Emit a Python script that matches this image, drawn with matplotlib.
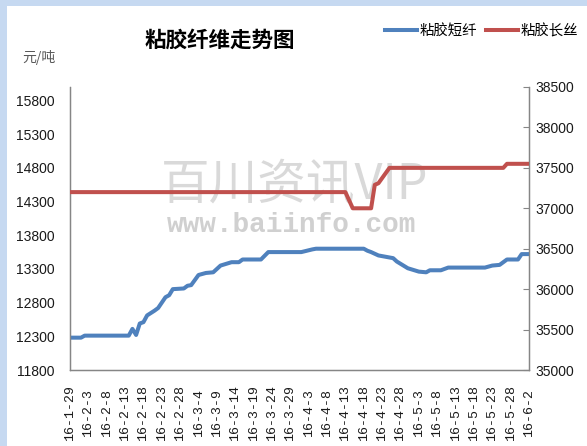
import matplotlib
matplotlib.use('Agg')
import matplotlib.pyplot as plt
from matplotlib.patches import Rectangle
from matplotlib.font_manager import FontProperties
import pandas as pd

# ---------------- data ----------------
staple_dates = ['2016-01-29', '2016-02-01', '2016-02-02', '2016-02-14', '2016-02-15',
                '2016-02-16', '2016-02-17', '2016-02-18', '2016-02-19', '2016-02-21',
                '2016-02-22', '2016-02-24', '2016-02-25', '2016-02-26', '2016-02-29',
                '2016-03-01', '2016-03-02', '2016-03-04', '2016-03-06', '2016-03-08',
                '2016-03-10', '2016-03-13', '2016-03-15', '2016-03-16', '2016-03-21',
                '2016-03-23', '2016-04-01', '2016-04-04', '2016-04-05', '2016-04-18',
                '2016-04-19', '2016-04-20', '2016-04-22', '2016-04-26', '2016-04-27',
                '2016-04-30', '2016-05-03', '2016-05-05', '2016-05-06', '2016-05-09',
                '2016-05-11', '2016-05-21', '2016-05-23', '2016-05-25', '2016-05-27',
                '2016-05-30', '2016-05-31', '2016-06-02']
staple_values = [12280, 12280, 12310, 12310, 12410,
                 12320, 12490, 12510, 12610, 12680,
                 12720, 12880, 12910, 13000, 13010,
                 13050, 13060, 13210, 13240, 13250,
                 13350, 13400, 13400, 13440, 13440,
                 13550, 13550, 13590, 13600, 13600,
                 13570, 13550, 13500, 13460, 13410,
                 13310, 13260, 13250, 13280, 13280,
                 13320, 13320, 13350, 13360, 13440,
                 13440, 13520, 13520]

filament_dates = ['2016-01-29', '2016-04-13', '2016-04-15', '2016-04-20', '2016-04-21',
                  '2016-04-22', '2016-04-25', '2016-05-26', '2016-05-27', '2016-06-02']
filament_values = [37200, 37200, 37000, 37000, 37290,
                   37310, 37500, 37500, 37550, 37550]

tick_labels = ['16-1-29', '16-2-3', '16-2-8', '16-2-13', '16-2-18', '16-2-23', '16-2-28',
               '16-3-4', '16-3-9', '16-3-14', '16-3-19', '16-3-24', '16-3-29', '16-4-3',
               '16-4-8', '16-4-13', '16-4-18', '16-4-23', '16-4-28', '16-5-3', '16-5-8',
               '16-5-13', '16-5-18', '16-5-23', '16-5-28', '16-6-2']

left_ticks = [11800, 12300, 12800, 13300, 13800, 14300, 14800, 15300, 15800]
right_ticks = [35000, 35500, 36000, 36500, 37000, 37500, 38000, 38500]

series_names = ['粘胶短纤', '粘胶长丝']
title_text = '粘胶纤维走势图'
unit_text = '元/吨'

# ---------------- style ----------------
CJK = 'Noto Sans CJK SC'
plt.rcParams['font.family'] = ['Liberation Sans', CJK, 'DejaVu Sans']
BLUE = '#4F81BD'
RED = '#C0504D'
AXIS = '#868686'
W, H = 587, 446

fig = plt.figure(figsize=(W / 100, H / 100), dpi=100)
fig.patch.set_facecolor('#C6D9F1')
fig.add_artist(Rectangle((7 / W, 0), 1, 1 - 6 / H, transform=fig.transFigure,
                         facecolor='white', edgecolor='none', zorder=0))

x0, x1, ytop, ybot = 70, 529, 87, 370
ax = fig.add_axes([x0 / W, 1 - ybot / H, (x1 - x0) / W, (ybot - ytop) / H])

sd = pd.to_datetime(staple_dates)
fd = pd.to_datetime(filament_dates)
tick_pos = pd.to_datetime(['20' + t for t in tick_labels], format='%Y-%m-%d')

# watermark
ax.text(0.489, 0.652, '百川资讯VIP', transform=ax.transAxes, fontsize=35, color='#D9D9D9',
        family=[CJK], ha='center', va='center', zorder=0.5)
ax.text(0.482, 0.512, 'www.baiinfo.com', transform=ax.transAxes, fontsize=20,
        color='#D0D0D0', family=['Liberation Mono'], fontweight='bold',
        ha='center', va='center', zorder=0.5)

l1, = ax.plot(sd, staple_values, color=BLUE, lw=2.9, solid_joinstyle='round', zorder=3)
ax2 = ax.twinx()
l2, = ax2.plot(fd, filament_values, color=RED, lw=2.9, solid_joinstyle='round', zorder=3)

ax.set_xlim(sd[0], sd[-1])
ax.set_ylim(11800, 16000)
ax.set_yticks(left_ticks)
ax.set_yticklabels([str(v) for v in left_ticks])
ax2.set_ylim(35000, 38500)
ax2.set_yticks(right_ticks)
ax2.set_yticklabels([str(v) for v in right_ticks])

ax.set_xticks(tick_pos)
ax.set_xticklabels(tick_labels, rotation=90, family=['Liberation Mono'], fontsize=9.5,
                   color='#1a1a1a')
for lbl in ax.get_xticklabels():
    lbl.set_va('center')
    lbl.set_ha('center')
ax.tick_params(axis='x', length=0, pad=31)
ax.tick_params(axis='y', length=0, pad=11, labelsize=10, labelcolor='#1a1a1a')
ax2.tick_params(axis='y', direction='in', length=4, color=AXIS, width=0.8,
                pad=4.5, labelsize=10, labelcolor='#1a1a1a')

for a in (ax, ax2):
    a.spines['top'].set_visible(False)
    for s in ('left', 'bottom', 'right'):
        a.spines[s].set_color(AXIS)
        a.spines[s].set_linewidth(0.9)

# titles
fig.text(220 / W, 1 - 40 / H, title_text, family=[CJK], fontsize=15.5, fontweight='bold',
         ha='center', va='center', color='black')
fig.text(39 / W, 1 - 58 / H, unit_text, family=[CJK], fontsize=10, color='#595959',
         ha='center', va='center')

fig.legend([l1, l2], series_names, loc='center left', bbox_to_anchor=(385 / W, 1 - 31 / H),
           ncol=2, frameon=False, borderpad=0, borderaxespad=0, handlelength=2.2,
           handletextpad=0.2, columnspacing=0.6,
           prop=FontProperties(family=CJK, size=10.4))

fig.savefig('out.png', dpi=100, facecolor=fig.get_facecolor())
